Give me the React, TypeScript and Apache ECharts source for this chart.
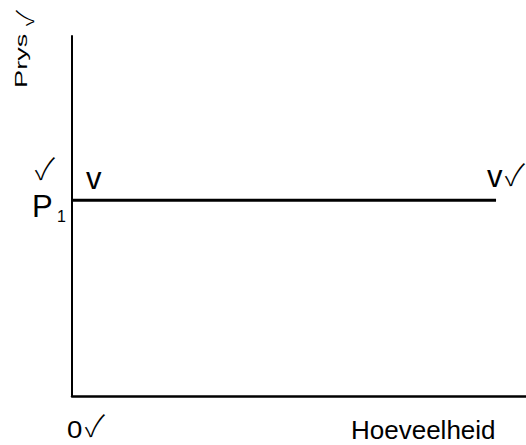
import React, { useEffect, useRef } from "react";
import * as echarts from "echarts";

const quantities = [0, 93.4];
const prices = [54.4, 54.4];
const yAxisTitle = "Prys";
const xAxisTitle = "Hoeveelheid";
const originLabel = "0";
const priceLabel = "P";
const priceSub = "1";
const curveLabel = "v";
const check = "✓";

export default function App() {
  const ref = useRef<HTMLDivElement>(null);
  useEffect(() => {
    document.body.style.margin = "0";
    const chart = echarts.init(ref.current!, null, { renderer: "svg" });
    const ff = "'Liberation Sans', Arial, sans-serif";
    const cf = "'Noto Sans CJK JP', 'DejaVu Sans', sans-serif";
    const txt = (text: string, x: number, y: number, size: number, extra: any = {}) => ({
      type: "text",
      x,
      y,
      scaleX: extra.sx || 1,
      rotation: extra.rot || 0,
      style: {
        text,
        fontSize: size,
        fontFamily: extra.font || ff,
        fontWeight: extra.fw || "normal",
        fill: "#000",
        align: extra.align || "left",
        verticalAlign: "middle",
      },
    });
    const chk = (x: number, y: number, size: number, rot = 0) =>
      txt(check, x, y, size, { font: cf, align: "center", rot, fw: 200 });
    chart.setOption({
      animation: false,
      backgroundColor: "#fff",
      grid: { left: 72, right: 0, top: 36, bottom: 49 },
      xAxis: {
        type: "value",
        min: 0,
        max: 100,
        axisLine: { show: true, lineStyle: { color: "#000", width: 2.5 } },
        axisTick: { show: false },
        axisLabel: { show: false },
        splitLine: { show: false },
      },
      yAxis: {
        type: "value",
        min: 0,
        max: 100,
        axisLine: { show: true, lineStyle: { color: "#000", width: 2 } },
        axisTick: { show: false },
        axisLabel: { show: false },
        splitLine: { show: false },
      },
      series: [
        {
          type: "line",
          data: quantities.map((q, i) => [q, prices[i]]),
          symbol: "none",
          lineStyle: { color: "#000", width: 3 },
        },
      ],
      graphic: [
        txt(yAxisTitle, 21.5, 88, 16, { sx: 1.7, rot: Math.PI / 2 }),
        chk(23.5, 18, 24, Math.PI / 2),
        chk(45, 167, 30),
        txt(priceLabel, 32, 206, 31),
        txt(priceSub, 57, 216, 16),
        txt(curveLabel, 86, 178, 31),
        txt(curveLabel, 487, 176, 31),
        chk(515, 173, 30),
        txt(originLabel, 67, 430, 24, { sx: 1.15 }),
        chk(95, 424, 30),
        txt(xAxisTitle, 351, 430, 26),
      ],
    });
    return () => chart.dispose();
  }, []);
  return <div ref={ref} style={{ width: 526, height: 445 }} />;
}
